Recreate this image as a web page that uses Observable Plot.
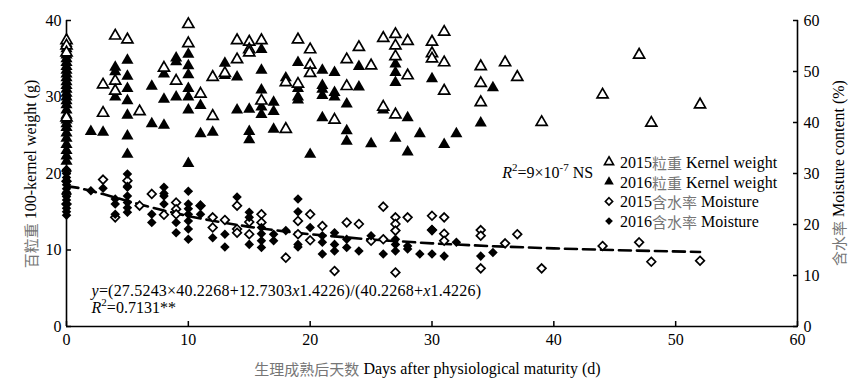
<!DOCTYPE html>
<html><head><meta charset="utf-8">
<script src="https://cdn.jsdelivr.net/npm/d3@7"></script>
<script src="https://cdn.jsdelivr.net/npm/@observablehq/plot@0.6"></script>
<style>
body{margin:0;background:#fff;}
#chart{position:relative;width:865px;height:384px;}
</style></head><body><div id="chart"></div>
<script>
// ---- data: [day, value] ----
// 2015 kernel weight (g), open triangles
const kw2015 = [[0,37.4],[0,36.7],[0,35.8],[0,27.3],[3,31.6],[3,27.9],[4,38.0],[4,32.1],[4,30.8],[5,37.5],[6,28.1],[8,33.8],[9,32.1],[10,39.5],[10,37.0],[11,30.4],[12,32.6],[12,27.5],[13,33.1],[14,37.4],[14,34.9],[15,37.2],[15,36.2],[15,35.8],[16,37.4],[16,29.5],[18,31.9],[18,25.8],[19,37.5],[19,31.7],[20,36.2],[20,34.2],[20,33.1],[22,27.0],[23,34.9],[23,31.4],[24,36.5],[25,34.1],[26,37.7],[26,28.7],[27,38.2],[27,36.7],[27,35.3],[27,27.7],[28,37.3],[28,32.8],[30,37.2],[30,35.7],[30,35.0],[31,38.5],[31,34.5],[31,30.8],[34,34.0],[34,31.8],[34,29.3],[36,34.5],[37,32.6],[39,26.7],[44,30.3],[47,35.5],[48,26.6],[52,29.0]];
// 2016 kernel weight (g), filled triangles
const kw2016 = [[0,37.0],[0,36.3],[0,35.5],[0,35.0],[0,34.5],[0,34.0],[0,33.5],[0,33.0],[0,32.5],[0,32.0],[0,31.5],[0,31.0],[0,30.5],[0,30.0],[0,29.5],[0,29.0],[0,28.3],[0,27.6],[0,27.0],[0,26.5],[0,26.0],[0,25.3],[0,24.6],[0,23.8],[0,23.0],[0,22.3],[0,21.6],[2,25.5],[3,25.4],[4,33.9],[4,33.3],[4,30.0],[5,34.8],[5,32.7],[5,31.1],[5,29.5],[5,27.6],[5,24.9],[5,22.5],[7,31.4],[7,26.5],[8,33.0],[8,29.7],[8,26.3],[9,35.1],[9,34.6],[9,30.0],[10,35.6],[10,34.1],[10,32.9],[10,31.1],[10,30.0],[10,28.3],[10,21.3],[11,28.9],[11,25.2],[12,25.4],[13,34.4],[13,32.8],[14,32.6],[14,28.3],[15,28.4],[15,25.5],[15,24.4],[16,36.2],[16,33.5],[16,30.9],[16,28.7],[16,27.7],[17,29.3],[17,28.1],[17,25.8],[18,32.5],[19,34.5],[19,31.1],[19,30.0],[19,29.6],[20,22.5],[21,33.5],[21,31.5],[21,31.0],[21,30.2],[21,27.3],[22,33.2],[22,30.6],[22,30.0],[23,29.1],[23,25.6],[23,24.2],[24,34.0],[24,31.3],[25,23.9],[26,28.3],[27,34.3],[27,33.2],[27,31.9],[27,24.6],[28,27.3],[28,22.8],[29,25.2],[30,32.4],[31,23.8],[32,25.2],[34,26.6],[35,31.2]];
// 2015 moisture (%), open diamonds
const m2015 = [[0,30.5],[0,28.5],[0,26.0],[0,24.0],[3,28.8],[4,21.4],[5,28.6],[6,23.7],[7,26.0],[8,21.9],[9,24.3],[9,23.0],[9,22.0],[11,23.7],[12,21.4],[12,19.4],[13,20.9],[14,23.7],[14,19.1],[14,18.4],[15,20.5],[15,18.1],[16,22.0],[16,20.4],[18,13.5],[19,20.7],[19,18.1],[20,22.0],[20,16.9],[21,19.7],[22,10.9],[23,20.4],[24,20.1],[25,16.8],[26,23.5],[26,17.1],[27,21.4],[27,20.1],[27,18.8],[27,10.6],[28,21.4],[30,21.7],[30,18.9],[31,21.4],[31,18.2],[31,16.8],[34,18.9],[34,17.8],[34,11.4],[36,16.3],[37,18.1],[39,11.4],[44,15.8],[47,16.5],[48,12.7],[52,12.9]];
// 2016 moisture (%), filled diamonds
const m2016 = [[0,30.8],[0,30.0],[0,29.2],[0,28.5],[0,27.8],[0,27.0],[0,26.3],[0,25.5],[0,24.8],[0,24.0],[0,23.2],[0,22.5],[0,21.8],[2,26.6],[3,27.1],[4,25.0],[4,24.0],[4,22.0],[5,29.9],[5,27.5],[5,27.3],[5,25.6],[5,24.3],[5,23.3],[5,22.4],[7,22.0],[7,20.4],[8,27.3],[8,26.1],[8,25.6],[8,24.0],[9,20.4],[9,18.4],[10,26.5],[10,24.0],[10,23.1],[10,22.0],[10,20.7],[10,19.1],[10,17.1],[11,23.7],[11,22.0],[12,17.4],[13,18.1],[13,15.6],[14,25.4],[15,22.4],[15,21.4],[15,16.1],[16,19.4],[16,18.2],[16,16.8],[16,15.5],[17,18.1],[17,16.8],[18,18.8],[19,25.0],[19,22.5],[19,16.1],[19,15.6],[20,19.4],[21,17.8],[21,16.5],[21,14.2],[22,18.4],[22,16.1],[22,14.8],[23,17.1],[23,15.5],[24,14.8],[25,17.8],[26,14.2],[27,17.1],[27,16.1],[27,14.8],[28,15.8],[28,15.2],[29,14.2],[30,19.0],[30,14.2],[31,13.8],[32,16.5],[34,13.8],[35,14.5]];
// fitted moisture curve (%)
const curveDays = [0,1,2,3,4,5,6,8,10,12,15,18,20,25,30,35,40,45,52];
const curveMoisture = [27.52,27.17,26.60,25.96,25.28,24.61,23.95,22.73,21.65,20.72,19.54,18.61,18.08,17.05,16.30,15.74,15.31,14.98,14.61];
// ticks
const xTicks = [0,10,20,30,40,50,60];
const yTicks = [0,10,20,30,40];
const y2Ticks = [0,10,20,30,40,50,60];
// text
const legendLabels = [["2015","粒重"," Kernel weight"],["2016","粒重"," Kernel weight"],["2015","含水率"," Moisture"],["2016","含水率"," Moisture"]];

const RATIO = 1.5; // right axis (%) per left axis unit (g)
const SERIF = "'Liberation Serif','Times New Roman',serif";
const CJK = "'Noto Sans CJK SC',sans-serif";
const GRAY = "#767676";

const curve = curveDays.map((d,i)=>({x:d, m:curveMoisture[i]}));

const plot = Plot.plot({
  width: 865, height: 384,
  marginLeft: 66, marginRight: 68, marginTop: 20, marginBottom: 58,
  style: {fontFamily: SERIF, fontSize: "16px", color: "#000", background: "#fff"},
  x: {domain: [0,60]},
  y: {domain: [0,40]},
  marks: [
    Plot.axisX({ticks: xTicks, tickSize: -5, tickPadding: 12, label: null, tickFormat: d=>d, strokeWidth: 1.5}),
    Plot.axisY({anchor: "left", ticks: yTicks, tickSize: -5, tickPadding: 10, label: null, tickFormat: d=>d, strokeWidth: 1.5}),
    Plot.axisY({anchor: "right", ticks: y2Ticks.map(v=>v/RATIO), tickSize: -5, tickPadding: 11, label: null, tickFormat: v=>Math.round(v*RATIO), strokeWidth: 1.5}),
    Plot.ruleY([0], {stroke: "#000", strokeWidth: 1.6}),
    Plot.ruleX([0, 60], {stroke: "#000", strokeWidth: 1.6}),
    Plot.line(curve, {x: "x", y: d=>d.m/RATIO, stroke: "#000", strokeWidth: 2.6, strokeDasharray: "12,6"}),
    Plot.dot(kw2016, {x: d=>d[0], y: d=>d[1], symbol: "triangle", r: 4.5, fill: "#000", stroke: "none"}),
    Plot.dot(kw2015, {x: d=>d[0], y: d=>d[1], symbol: "triangle", r: 4.1, fill: "#fff", stroke: "#000", strokeWidth: 1.7}),
    Plot.dot(m2015, {x: d=>d[0], y: d=>d[1]/RATIO, symbol: "diamond2", r: 3.9, fill: "#fff", stroke: "#000", strokeWidth: 1.7}),
    Plot.dot(m2016, {x: d=>d[0], y: d=>d[1]/RATIO, symbol: "diamond2", r: 4.3, fill: "#000", stroke: "none"})
  ]
});
document.getElementById("chart").appendChild(plot);

const svg = d3.select(plot);
const xs = plot.scale("x"), ys = plot.scale("y");
const X = v => xs.apply(v), Y = v => ys.apply(v);
const g = svg.append("g").attr("font-family", SERIF).attr("font-size", 16).attr("fill", "#000").attr("text-anchor", "start");

function mixed(sel, parts){
  parts.forEach(([t, opt]) => {
    const ts = sel.append("tspan").text(t);
    if (opt === "cjk") ts.attr("font-family", CJK).attr("fill", GRAY).attr("font-size", 15);
    if (opt === "i") ts.attr("font-style", "italic");
    if (opt === "sup") ts.attr("font-size", 11).attr("dy", -7);
    if (opt === "unsup") ts.attr("dy", 7);
  });
}

// axis titles
const yl = g.append("text").attr("transform", `translate(30,${(Y(0)+Y(40))/2 + 1}) rotate(-90)`).attr("text-anchor","middle").attr("dominant-baseline","central");
mixed(yl, [["百粒重","cjk"],[" 100-kernel weight (g)"]]);
const yr = g.append("text").attr("transform", `translate(838,${(Y(0)+Y(40))/2}) rotate(-90)`).attr("text-anchor","middle").attr("dominant-baseline","central");
mixed(yr, [["含水率","cjk"],[" Moisture content (%)"]]);
const xl = g.append("text").attr("x", (X(0)+X(60))/2 - 4).attr("y", 368).attr("text-anchor","middle").attr("dominant-baseline","central");
mixed(xl, [["生理成熟后天数","cjk"],[" Days after physiological maturity (d)"]]);

// annotations
const f1 = g.append("text").attr("x", X(2.1)).attr("y", 296).attr("letter-spacing", 0.2);
mixed(f1, [["y","i"],["=(27.5243×40.2268+12.7303"],["x","i"],["1.4226)/(40.2268+"],["x","i"],["1.4226)"]]);
const f2 = g.append("text").attr("x", X(2.1)).attr("y", 313);
mixed(f2, [["R","i"],["2","sup"],["=0.7131**","unsup"]]);
const t3 = g.append("text").attr("x", X(35.8)).attr("y", 178);
t3.append("tspan").attr("font-style","italic").text("R");
t3.append("tspan").attr("font-size",11).attr("dy",-7).text("2");
t3.append("tspan").attr("dy",7).text("=9×10");
t3.append("tspan").attr("font-size",11).attr("dy",-7).text("-7");
t3.append("tspan").attr("dy",7).text(" NS");

// legend
const lg = g.append("g");
const syms = [
  {s: d3.symbolTriangle, fill: "#fff", stroke: "#000", size: 36},
  {s: d3.symbolTriangle, fill: "#000", stroke: "none", size: 40},
  {s: d3.symbolDiamond2, fill: "#fff", stroke: "#000", size: 34},
  {s: d3.symbolDiamond2, fill: "#000", stroke: "none", size: 38}
];
legendLabels.forEach((lab, i) => {
  const cy = 162 + i*19.7;
  lg.append("path").attr("d", d3.symbol(syms[i].s, syms[i].size)()).attr("transform", `translate(609,${cy})`)
    .attr("fill", syms[i].fill).attr("stroke", syms[i].stroke).attr("stroke-width", 1.6);
  const t = lg.append("text").attr("x", 620).attr("y", cy).attr("dominant-baseline","central");
  mixed(t, [[lab[0]],[lab[1],"cjk"],[lab[2]]]);
});
</script></body></html>
